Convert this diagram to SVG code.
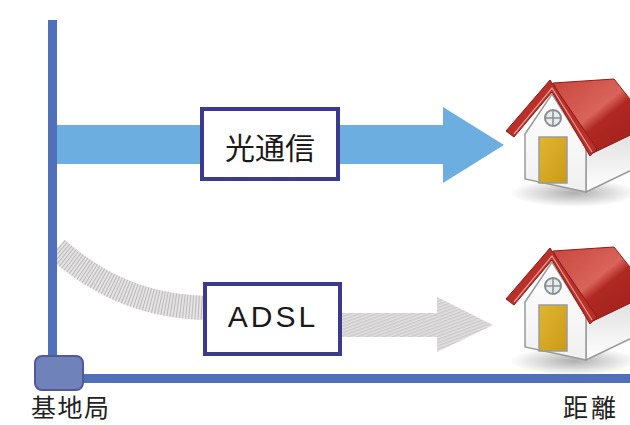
<svg xmlns="http://www.w3.org/2000/svg" width="630" height="425" viewBox="0 0 630 425">
  <style>
    .axis { stroke: #5071b9; stroke-width: 9; fill: none; }
    .box { fill: #ffffff; stroke: #3c3a8e; stroke-width: 4; }
    .label { font-family: "Noto Sans CJK JP", "Noto Sans", sans-serif; fill: #1a1a1a; text-anchor: middle; }
    .latin { font-family: "Liberation Sans", Arial, sans-serif; fill: #1a1a1a; text-anchor: middle; }
    .caption { font-family: "Noto Sans CJK JP", sans-serif; fill: #222; font-size: 25px; }
  </style>
  <defs>
    <pattern id="hatch" width="3" height="3" patternUnits="userSpaceOnUse" patternTransform="rotate(70)">
      <rect width="3" height="3" fill="#e4e2e2"/>
      <line x1="0.8" y1="0" x2="0.8" y2="3" stroke="#c2bfbf" stroke-width="1.1"/>
    </pattern>
    <linearGradient id="roofGrad" x1="0" y1="0" x2="1" y2="1">
      <stop offset="0" stop-color="#c8463d"/>
      <stop offset="0.45" stop-color="#d9645a"/>
      <stop offset="0.55" stop-color="#b02822"/>
      <stop offset="1" stop-color="#9c1f1b"/>
    </linearGradient>
    <linearGradient id="sideGrad" x1="0" y1="0" x2="0" y2="1">
      <stop offset="0" stop-color="#dcdcdc"/>
      <stop offset="1" stop-color="#ffffff"/>
    </linearGradient>
    <linearGradient id="frontGrad" x1="0" y1="0" x2="0" y2="1">
      <stop offset="0" stop-color="#ffffff"/>
      <stop offset="1" stop-color="#f0f0f0"/>
    </linearGradient>
    <linearGradient id="doorGrad" x1="0" y1="0" x2="1" y2="1">
      <stop offset="0" stop-color="#e2b631"/>
      <stop offset="1" stop-color="#c99a16"/>
    </linearGradient>
    <radialGradient id="shadowGrad">
      <stop offset="0" stop-color="#b0b0b0"/>
      <stop offset="1" stop-color="#b0b0b0" stop-opacity="0"/>
    </radialGradient>
    <!-- house drawn at the upper position; the lower one reuses it -->
    <g id="house">
      <ellipse cx="574" cy="193" rx="64" ry="14" fill="url(#shadowGrad)"/>
      <polygon points="586,150 640,124 640,166 586,192" fill="url(#sideGrad)" stroke="#9a9a9a" stroke-width="1.5"/>
      <polygon points="525,134 552,94 586,148 586,192 525,179" fill="url(#frontGrad)" stroke="#9a9a9a" stroke-width="1.5"/>
      <polygon points="553,83 614,79 645,118 645,128 593,153" fill="url(#roofGrad)" stroke="#8e1c18" stroke-width="1"/>
      <polygon points="506,131 550,80 597,149 590,156 552,92 514,137" fill="#b9302a" stroke="#8a1b17" stroke-width="1"/>
      <polyline points="514,134 552,88 592,152" fill="none" stroke="#e79a92" stroke-width="1.2"/>
      <circle cx="553" cy="118" r="8" fill="#e4edf2" stroke="#8c8c8c" stroke-width="2"/>
      <line x1="545" y1="118" x2="561" y2="118" stroke="#8c8c8c" stroke-width="1.5"/>
      <line x1="553" y1="110" x2="553" y2="126" stroke="#8c8c8c" stroke-width="1.5"/>
      <rect x="539" y="137" width="28" height="46" fill="url(#doorGrad)" stroke="#9a9a9a" stroke-width="1.5"/>
    </g>
  </defs>

  <!-- houses -->
  <g id="house-fiber">
    <use href="#house"/>
  </g>
  <g id="house-adsl">
    <use href="#house" transform="translate(0,168)"/>
  </g>

  <!-- connectors -->
  <g id="connectors">
    <!-- fiber: straight wide blue arrow -->
    <rect x="57" y="125" width="387" height="39" fill="#6caedf"/>
    <polygon points="443,107 504,145 443,183" fill="#6caedf"/>
    <!-- ADSL: hatched curved band and arrow -->
    <path d="M57,249 C95,282 140,306 206,308" fill="none" stroke="#e6e4e4" stroke-width="24"/>
    <path d="M57,249 C95,282 140,306 206,308" fill="none" stroke="#bdbaba" stroke-width="24" stroke-dasharray="1.1 1.9"/>
    <rect x="340" y="313" width="98" height="24" fill="url(#hatch)"/>
    <polygon points="437,297 493,325 437,352" fill="url(#hatch)"/>
  </g>

  <!-- axes -->
  <g id="axes">
    <line class="axis" x1="52.5" y1="20" x2="52.5" y2="360"/>
    <line class="axis" x1="80" y1="378.5" x2="630" y2="378.5"/>
  </g>

  <g id="node-fiber">
    <rect class="box" x="202" y="109" width="136" height="70"/>
    <text class="label" x="270" y="159" font-size="30">光通信</text>
  </g>

  <g id="node-adsl">
    <rect class="box" x="205" y="284" width="135" height="70"/>
    <text class="latin" x="273" y="327" font-size="30" letter-spacing="3">ADSL</text>
  </g>

  <g id="node-base">
    <rect x="35" y="356" width="48" height="34" rx="7" fill="#6f82b9" stroke="#52589a" stroke-width="2"/>
    <text class="caption" x="31" y="417" letter-spacing="1.5">基地局</text>
  </g>

  <g id="label-distance">
    <text class="caption" x="563" y="417" letter-spacing="3">距離</text>
  </g>
</svg>
